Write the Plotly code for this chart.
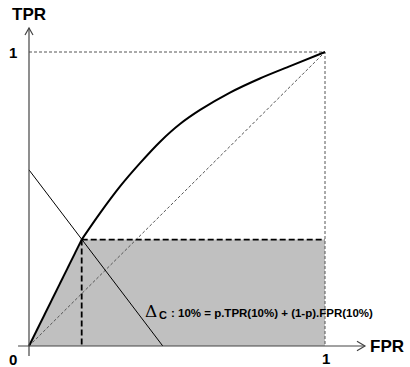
import plotly.graph_objects as go

# ROC curve (FPR, TPR)
curve_fpr = [0.0, 0.178, 0.24, 0.307, 0.375, 0.443, 0.51, 0.578, 0.679, 0.78, 0.882, 1.0]
curve_tpr = [0.0, 0.362, 0.452, 0.542, 0.622, 0.695, 0.755, 0.803, 0.862, 0.910, 0.952, 1.0]

# operating point at 10%
op_fpr = 0.178
op_tpr = 0.362

# iso-performance line intercepts
iso_y0 = 0.599   # TPR intercept at FPR=0
iso_x0 = 0.452   # FPR intercept at TPR=0

tick_labels = ["0", "1"]
axis_titles = ["FPR", "TPR"]
formula = ": 10% = p.TPR(10%) + (1-p).FPR(10%)"

fig = go.Figure()

# shaded region
fig.add_trace(go.Scatter(x=[0, op_fpr, 1, 1, 0], y=[0, op_tpr, op_tpr, 0, 0],
                         mode="lines", fill="toself", fillcolor="#c0c0c0",
                         line=dict(width=0), hoverinfo="skip"))
# box dashed (top and right)
fig.add_trace(go.Scatter(x=[0, 1, 1], y=[1, 1, 0], mode="lines",
                         line=dict(color="#555555", width=1, dash="3px,2px")))
# chance diagonal
fig.add_trace(go.Scatter(x=[0, 1], y=[0, 1], mode="lines",
                         line=dict(color="#555555", width=1, dash="3px,2px")))
# dashed lines from operating point
fig.add_trace(go.Scatter(x=[op_fpr, 1], y=[op_tpr, op_tpr], mode="lines",
                         line=dict(color="black", width=1.8, dash="6px,3px")))
fig.add_trace(go.Scatter(x=[op_fpr, op_fpr], y=[op_tpr, 0], mode="lines",
                         line=dict(color="black", width=1.8, dash="6px,3px")))
# iso line
fig.add_trace(go.Scatter(x=[0, iso_x0], y=[iso_y0, 0], mode="lines",
                         line=dict(color="black", width=1)))
# ROC curve
fig.add_trace(go.Scatter(x=curve_fpr[:2], y=curve_tpr[:2], mode="lines",
                         line=dict(color="black", width=2)))
fig.add_trace(go.Scatter(x=curve_fpr[1:], y=curve_tpr[1:], mode="lines",
                         line=dict(color="black", width=2, shape="spline", smoothing=0.8)))

# axes drawn as lines with open arrowheads
ax_col = "#444444"
fig.add_shape(type="line", x0=-0.037, y0=0, x1=1.135, y1=0, line=dict(color=ax_col, width=1.2))
fig.add_shape(type="line", x0=0, y0=-0.034, x1=0, y1=1.082, line=dict(color=ax_col, width=1.2))
fig.add_shape(type="path", path="M 1.108,0.016 L 1.135,0 L 1.108,-0.016",
              line=dict(color=ax_col, width=1.2))
fig.add_shape(type="path", path="M -0.0135,1.058 L 0,1.082 L 0.0135,1.058",
              line=dict(color=ax_col, width=1.2))

lab_font = dict(family="Liberation Sans, Arial", size=15, color="black")
fig.add_annotation(x=-0.054, y=-0.045, text="<b>%s</b>" % tick_labels[0], showarrow=False, font=lab_font)
fig.add_annotation(x=1.005, y=-0.042, text="<b>%s</b>" % tick_labels[1], showarrow=False, font=lab_font)
fig.add_annotation(x=-0.054, y=1.0, text="<b>%s</b>" % tick_labels[1], showarrow=False, font=lab_font)

title_font = dict(family="Liberation Sans, Arial", size=17, color="black")
fig.add_annotation(x=1.208, y=0.0, text="<b>%s</b>" % axis_titles[0], showarrow=False, font=title_font)
fig.add_annotation(x=0.0, y=1.126, text="<b>%s</b>" % axis_titles[1], showarrow=False, font=title_font)

# formula
fig.add_annotation(x=0.412, y=0.12, text="Δ", showarrow=False,
                   font=dict(family="DejaVu Serif", size=17, color="black"))
fig.add_annotation(x=0.453, y=0.104, text="<b>C</b>", showarrow=False,
                   font=dict(family="Liberation Sans, Arial", size=11, color="black"))
fig.add_annotation(x=0.474, y=0.112, text="<b>%s</b>" % formula, showarrow=False, xanchor="left",
                   font=dict(family="Liberation Sans, Arial", size=11.5, color="black"))

fig.update_layout(width=410, height=367, margin=dict(l=0, r=0, t=0, b=0),
                  plot_bgcolor="white", paper_bgcolor="white", showlegend=False,
                  hovermode=False)
fig.update_xaxes(visible=False, range=[-29/296, 381/296])
fig.update_yaxes(visible=False, range=[-21/294, 346/294])

fig.write_html("out.html", config={"displayModeBar": False, "staticPlot": True},
               post_script="document.body.style.margin='0';document.body.style.padding='0';document.body.style.overflow='hidden';")
